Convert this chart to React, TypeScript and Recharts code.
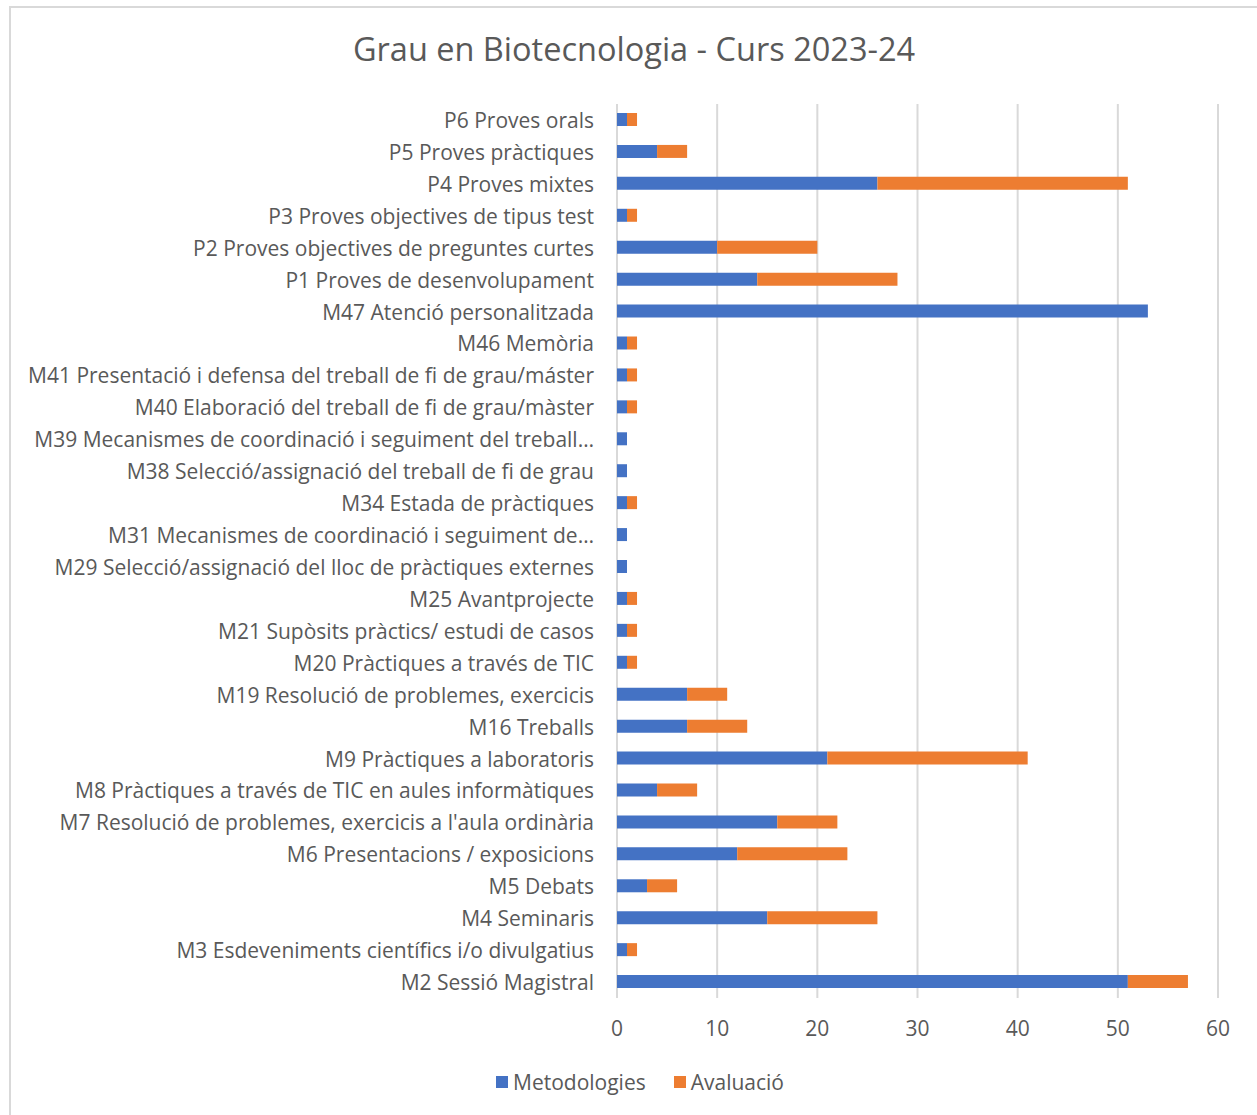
import React from 'react';
import { BarChart, Bar, XAxis, YAxis, CartesianGrid, Legend } from 'recharts';

// categories, top to bottom as they appear
const categories = [
  'P6 Proves orals',
  'P5 Proves pràctiques',
  'P4 Proves mixtes',
  'P3 Proves objectives de tipus test',
  'P2 Proves objectives de preguntes curtes',
  'P1 Proves de desenvolupament',
  'M47 Atenció personalitzada',
  'M46 Memòria',
  'M41 Presentació i defensa del treball de fi de grau/máster',
  'M40 Elaboració del treball de fi de grau/màster',
  'M39 Mecanismes de coordinació i seguiment del treball…',
  'M38 Selecció/assignació del treball de fi de grau',
  'M34 Estada de pràctiques ',
  'M31 Mecanismes de coordinació i seguiment de…',
  'M29 Selecció/assignació del lloc de pràctiques externes',
  'M25 Avantprojecte',
  'M21 Supòsits pràctics/ estudi de casos',
  'M20 Pràctiques a través de TIC',
  'M19 Resolució de problemes, exercicis',
  'M16 Treballs',
  'M9 Pràctiques a laboratoris',
  'M8 Pràctiques a través de TIC en aules informàtiques',
  "M7 Resolució de problemes, exercicis a l'aula ordinària",
  'M6 Presentacions / exposicions',
  'M5 Debats',
  'M4 Seminaris',
  'M3 Esdeveniments científics i/o divulgatius',
  'M2 Sessió Magistral',
];

const metodologies = [1, 4, 26, 1, 10, 14, 53, 1, 1, 1, 1, 1, 1, 1, 1, 1, 1, 1, 7, 7, 21, 4, 16, 12, 3, 15, 1, 51];
const avaluacio = [1, 3, 25, 1, 10, 14, 0, 1, 1, 1, 0, 0, 1, 0, 0, 1, 1, 1, 4, 6, 20, 4, 6, 11, 3, 11, 1, 6];

const xTicks = [0, 10, 20, 30, 40, 50, 60];
const seriesOrder = ['Metodologies', 'Avaluació'];

const data = categories.map((name, i) => ({
  name,
  metodologies: metodologies[i],
  avaluacio: avaluacio[i],
}));

const FONT = '"Open Sans", "Noto Sans", sans-serif';
const TEXT = '#595959';
const BLUE = '#4472C4';
const ORANGE = '#ED7D31';

const CategoryTick = ({ x, y, payload }: any) => (
  <text x={x - 15} y={y} textAnchor="end" dominantBaseline="central" fill={TEXT} fontSize={21} fontFamily={FONT}>
    {payload.value}
  </text>
);

const ValueTick = ({ x, y, payload }: any) => (
  <text x={x} y={y + 22} textAnchor="middle" dominantBaseline="central" fill={TEXT} fontSize={21} fontFamily={FONT}>
    {payload.value}
  </text>
);

const LegendBox = ({ payload }: any) => {
  const items = [...(payload || [])].sort((a: any, b: any) => seriesOrder.indexOf(a.value) - seriesOrder.indexOf(b.value));
  return (
    <div style={{ display: 'flex', justifyContent: 'center', gap: 28, fontFamily: FONT, fontSize: 21, color: TEXT, height: 24, alignItems: 'center', paddingLeft: 62 }}>
      {items.map((p: any) => (
        <span key={p.value} style={{ display: 'flex', alignItems: 'center' }}>
          <span style={{ width: 12, height: 12, background: p.color, display: 'inline-block', marginRight: 5 }} />
          {p.value}
        </span>
      ))}
    </div>
  );
};

export default function App() {
  return (
    <div style={{ position: 'absolute', left: 0, top: 0, width: 1257, height: 1115, overflow: 'hidden', background: '#fff' }}>
      {/* cadre gris du graphique */}
      <div style={{ position: 'absolute', left: 9, top: 6, width: 1300, height: 1200, border: '2px solid #d9d9d9', boxSizing: 'border-box' }} />
      <div style={{ position: 'absolute', left: 0, width: 1268, top: 28, textAlign: 'center', fontFamily: FONT, fontSize: 32.5, color: TEXT, lineHeight: '42px' }}>
        Grau en Biotecnologia - Curs 2023-24
      </div>
      <div style={{ position: 'absolute', left: 0, top: 0 }}>
        <BarChart
          width={1257}
          height={1115}
          data={data}
          layout="vertical"
          margin={{ top: 104, right: 39, left: 0, bottom: 21 }}
          barSize={13}
        >
          <CartesianGrid horizontal={false} stroke="#d9d9d9" strokeWidth={2} />
          <XAxis
            type="number"
            domain={[0, 60]}
            ticks={xTicks}
            axisLine={false}
            tickLine={false}
            tick={<ValueTick />}
            height={72}
            interval={0}
          />
          <YAxis
            type="category"
            dataKey="name"
            width={617}
            axisLine={false}
            tickLine={false}
            tick={<CategoryTick />}
            interval={0}
          />
          <Legend verticalAlign="bottom" content={<LegendBox />} />
          <Bar dataKey="metodologies" name="Metodologies" stackId="a" fill={BLUE} isAnimationActive={false} />
          <Bar dataKey="avaluacio" name="Avaluació" stackId="a" fill={ORANGE} isAnimationActive={false} />
        </BarChart>
      </div>
    </div>
  );
}
